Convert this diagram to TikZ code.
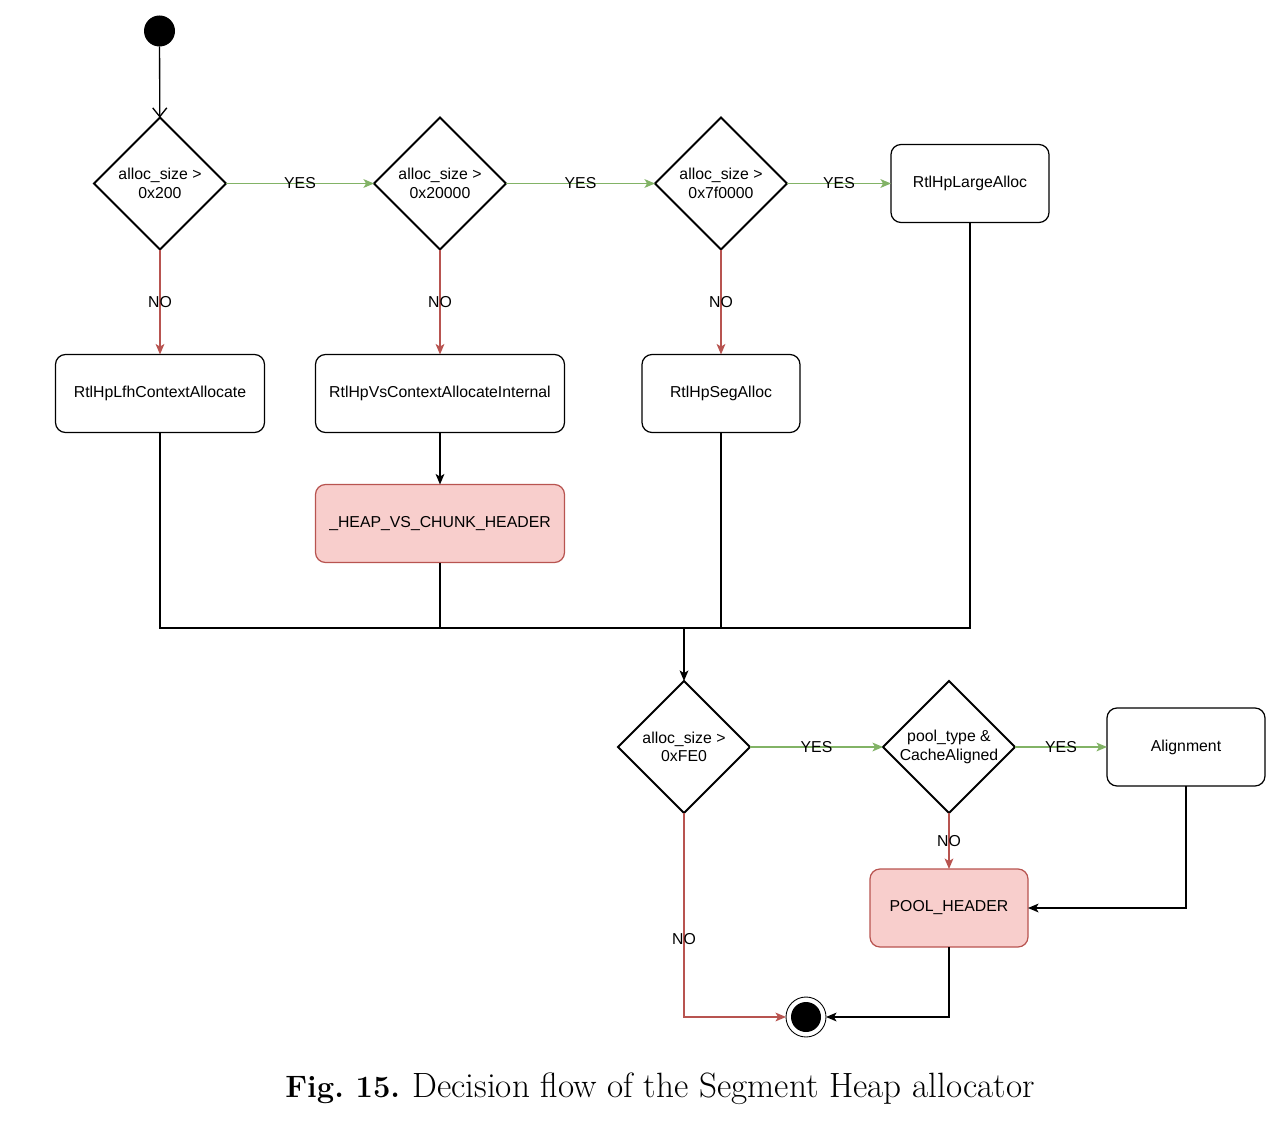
\documentclass[tikz,border=0pt]{standalone}
\usepackage{fontspec}
\newfontfamily\drawfont{Liberation Sans}
\usetikzlibrary{positioning, shapes.geometric, arrows.meta}
\definecolor{yesgreen}{HTML}{82B366}
\definecolor{nored}{HTML}{B85450}
\definecolor{headerpink}{HTML}{F8CECC}

\begin{document}
\begin{tikzpicture}[
  decision/.style={diamond, draw=black, line width=1.1pt, aspect=1, minimum width=2.64cm, minimum height=2.64cm, inner sep=0pt, outer sep=0pt, align=center, font=\drawfont\fontsize{9}{10.5}\selectfont},
  process/.style={rectangle, rounded corners=0.2cm, draw=black, line width=0.7pt, minimum width=3.16cm, minimum height=1.56cm, outer sep=0pt, font=\drawfont\fontsize{9}{10.5}\selectfont},
  header/.style={process, fill=headerpink, draw=nored},
  initial/.style={circle, fill=black, minimum size=0.62cm, inner sep=0pt, outer sep=0pt},
  final/.style={circle, draw=black, line width=0.5pt, minimum size=0.8cm, inner sep=0pt, outer sep=0pt,
    path picture={\fill[black] (path picture bounding box.center) circle (0.3cm);}},
  line/.style={line width=0.75pt},
  arrow/.style={line, -{Stealth[length=6pt, width=5pt, inset=1.5pt]}},
  yes/.style={arrow, draw=yesgreen},
  no/.style={arrow, draw=nored},
  branch/.style={font=\drawfont\fontsize{9}{10.5}\selectfont, inner sep=1pt},
  node distance=2.1cm and 2.96cm
]
\useasboundingbox (0,0) rectangle (25.72,-22.52);

% Allocation size checks along the top row
\node[initial] (Start) at (3.19,-0.62) {};
\node[decision, below=1.42cm of Start, xshift=0.01cm] (D1) {alloc\_size >\\0x200};
\node[decision, right=2.96cm of D1] (D2) {alloc\_size >\\0x20000};
\node[decision, right=2.98cm of D2] (D3) {alloc\_size >\\0x7f0000};
\node[process, right=2.08cm of D3] (Large) {RtlHpLargeAlloc};

\node[process, minimum width=4.18cm, below=of D1] (Lfh) {RtlHpLfhContextAllocate};
\node[process, minimum width=4.98cm, below=of D2] (Vs) {RtlHpVsContextAllocateInternal};
\node[process, below=of D3] (Seg) {RtlHpSegAlloc};
\node[header, minimum width=4.98cm, below=1.04cm of Vs] (Heap) {\_HEAP\_VS\_CHUNK\_HEADER};

% Segment allocation path
\coordinate (merge) at (13.68,-12.56);
\node[decision] (D4) at (13.68,-14.94) {alloc\_size >\\0xFE0};
\node[decision, right=2.66cm of D4] (D5) {pool\_type \&\\CacheAligned};
\node[process, right=1.84cm of D5] (Align) {Alignment};
\node[header, below=1.12cm of D5] (Pool) {POOL\_HEADER};
\node[final] (End) at (16.12,-20.34) {};

\node (Caption) at (13.2,-21.78) {{\fontsize{17.6}{21}\selectfont\textbf{Fig.~15.}}\hspace{7pt}{\fontsize{20}{23}\selectfont Decision flow of the Segment Heap allocator}};

% Connectors
\draw[line, -{Straight Barb[length=5pt, width=8pt]}] (Start) -- (D1);
\draw[yes] (D1) -- node[branch] {YES} (D2);
\draw[yes] (D2) -- node[branch] {YES} (D3);
\draw[yes] (D3) -- node[branch] {YES} (Large);
\draw[no] (D1) -- node[branch] {NO} (Lfh);
\draw[no] (D2) -- node[branch] {NO} (Vs);
\draw[no] (D3) -- node[branch] {NO} (Seg);
\draw[arrow] (Vs) -- (Heap);

\draw[line] (Lfh.south) -- (Lfh.south |- merge) -- (Large.south |- merge) -- (Large.south);
\draw[line] (Heap.south) -- (Heap.south |- merge);
\draw[line] (Seg.south) -- (Seg.south |- merge);
\draw[arrow] (merge) -- (D4);

\draw[yes] (D4) -- node[branch] {YES} (D5);
\draw[yes] (D5) -- node[branch] {YES} (Align);
\draw[no] (D5) -- node[branch] {NO} (Pool);
\draw[no] (D4.south) |- node[branch, pos=0.31] {NO} (End.west);
\draw[arrow] (Align.south) |- (Pool.east);
\draw[arrow] (Pool.south) |- (End.east);

\end{tikzpicture}
\end{document}
